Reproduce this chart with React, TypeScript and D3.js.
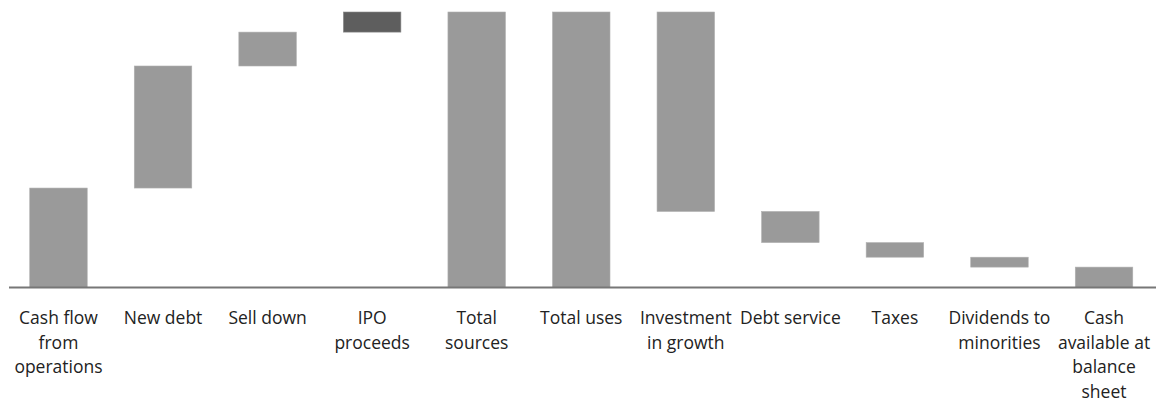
import React from "react";
import * as d3 from "d3";

const categories: string[][] = [
  ["Cash flow", "from", "operations"],
  ["New debt"],
  ["Sell down"],
  ["IPO", "proceeds"],
  ["Total", "sources"],
  ["Total uses"],
  ["Investment", "in growth"],
  ["Debt service"],
  ["Taxes"],
  ["Dividends to", "minorities"],
  ["Cash", "available at", "balance", "sheet"],
];
const values: number[] = [36.1, 44.3, 12.3, 7.3, 100, 100, 72.4, 11.3, 5.3, 3.6, 7.4];
const kinds: string[] = ["up", "up", "up", "up", "total", "total", "down", "down", "down", "down", "end"];
const highlighted: string[] = ["IPO"];

const W = 1161;
const H = 405;
const BASE_Y = 287.5;
const TOP_Y = 12;

export default function App() {
  const keys = categories.map((c) => c.join(" "));
  const x = d3
    .scaleBand<string>()
    .domain(keys)
    .range([6.2, 1156.3])
    .paddingInner(0.45)
    .paddingOuter(0.225);
  const y = d3.scaleLinear().domain([0, 100]).range([BASE_Y, TOP_Y]);

  // compute waterfall segments
  let running = 0;
  const segs = values.map((v, i) => {
    const k = kinds[i];
    let lo = 0;
    let hi = 0;
    if (k === "up") {
      lo = running;
      hi = running + v;
      running = hi;
    } else if (k === "total") {
      lo = 0;
      hi = v;
      running = v;
    } else if (k === "down") {
      hi = running;
      lo = running - v;
      running = lo;
    } else {
      lo = 0;
      hi = v;
    }
    return { key: keys[i], lo, hi, dark: highlighted.includes(categories[i][0]) };
  });

  return (
    <div style={{ position: "absolute", left: 0, top: 0 }}>
      <svg width={W} height={H} style={{ display: "block", background: "#fff" }}>
        {segs.map((s) => (
          <rect
            key={s.key}
            x={x(s.key)!}
            y={y(s.hi)}
            width={x.bandwidth()}
            height={y(s.lo) - y(s.hi)}
            fill={s.dark ? "#5e5e5e" : "#9a9a9a"}
            stroke={s.dark ? "#8a8a8a" : "#b0b0b0"}
            strokeWidth={0.6}
          />
        ))}
        <line x1={9} x2={1156} y1={BASE_Y} y2={BASE_Y} stroke="#777" strokeWidth={2} />
        {categories.map((lines, i) => (
          <text
            key={keys[i]}
            x={x(keys[i])! + x.bandwidth() / 2}
            y={324}
            textAnchor="middle"
            fontFamily="'Open Sans', sans-serif"
            fontSize={17.5}
            fill="#222"
          >
            {lines.map((ln, j) => (
              <tspan key={j} x={x(keys[i])! + x.bandwidth() / 2} dy={j === 0 ? 0 : 24.5}>
                {ln}
              </tspan>
            ))}
          </text>
        ))}
      </svg>
    </div>
  );
}
